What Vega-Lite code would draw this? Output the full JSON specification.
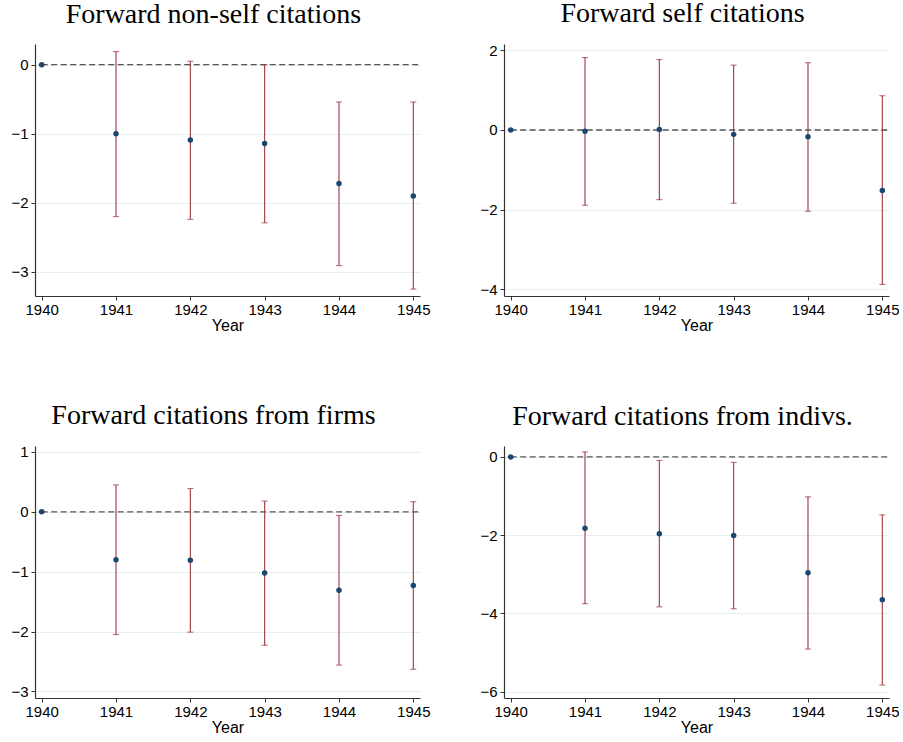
{
  "$schema": "https://vega.github.io/schema/vega-lite/v6.json",
  "background": "white",
  "padding": {"left": 10, "top": 0, "right": 0, "bottom": 0},
  "datasets": {
    "est": [
      {"outcome": "nonself", "year": 1940, "b": 0, "lo": 0, "hi": 0},
      {"outcome": "nonself", "year": 1941, "b": -1.00, "lo": -2.20, "hi": 0.19},
      {"outcome": "nonself", "year": 1942, "b": -1.09, "lo": -2.24, "hi": 0.05},
      {"outcome": "nonself", "year": 1943, "b": -1.14, "lo": -2.29, "hi": 0.00},
      {"outcome": "nonself", "year": 1944, "b": -1.72, "lo": -2.91, "hi": -0.54},
      {"outcome": "nonself", "year": 1945, "b": -1.90, "lo": -3.25, "hi": -0.54},
      {"outcome": "self", "year": 1940, "b": 0, "lo": 0, "hi": 0},
      {"outcome": "self", "year": 1941, "b": -0.03, "lo": -1.89, "hi": 1.82},
      {"outcome": "self", "year": 1942, "b": 0.01, "lo": -1.75, "hi": 1.77},
      {"outcome": "self", "year": 1943, "b": -0.11, "lo": -1.84, "hi": 1.63},
      {"outcome": "self", "year": 1944, "b": -0.17, "lo": -2.04, "hi": 1.69},
      {"outcome": "self", "year": 1945, "b": -1.52, "lo": -3.88, "hi": 0.86},
      {"outcome": "firms", "year": 1940, "b": 0, "lo": 0, "hi": 0},
      {"outcome": "firms", "year": 1941, "b": -0.80, "lo": -2.05, "hi": 0.45},
      {"outcome": "firms", "year": 1942, "b": -0.81, "lo": -2.01, "hi": 0.39},
      {"outcome": "firms", "year": 1943, "b": -1.02, "lo": -2.23, "hi": 0.18},
      {"outcome": "firms", "year": 1944, "b": -1.31, "lo": -2.56, "hi": -0.06},
      {"outcome": "firms", "year": 1945, "b": -1.23, "lo": -2.63, "hi": 0.17},
      {"outcome": "indivs", "year": 1940, "b": 0, "lo": 0, "hi": 0},
      {"outcome": "indivs", "year": 1941, "b": -1.82, "lo": -3.75, "hi": 0.13},
      {"outcome": "indivs", "year": 1942, "b": -1.96, "lo": -3.83, "hi": -0.09},
      {"outcome": "indivs", "year": 1943, "b": -2.01, "lo": -3.88, "hi": -0.14},
      {"outcome": "indivs", "year": 1944, "b": -2.96, "lo": -4.91, "hi": -1.02},
      {"outcome": "indivs", "year": 1945, "b": -3.65, "lo": -5.83, "hi": -1.48}
    ]
  },
  "data": {"name": "est"},
  "bounds": "flush",
  "columns": 2,
  "spacing": {"row": 150, "column": 84},
  "concat": [
    {
      "width": 385, "height": 252,
      "title": {"text": "Forward non-self citations"},
      "transform": [{"filter": "datum.outcome === 'nonself'"}],
      "encoding": {
        "x": {"field": "year", "type": "quantitative", "scale": {"domain": [1939.91, 1945.09], "nice": false, "zero": false}, "axis": {"title": "Year", "values": [1940, 1941, 1942, 1943, 1944, 1945], "format": "d", "grid": false}}
      },
      "layer": [
        {"transform": [{"filter": "datum.year === 1940"}], "mark": {"type": "rule", "color": "#555555", "strokeDash": [6, 3.5], "strokeWidth": 1.3}, "encoding": {"x2": {"datum": 1945.09}, "y": {"datum": 0, "type": "quantitative", "title": null, "scale": {"domain": [-3.35, 0.30], "nice": false, "zero": false}}}},
        {"mark": {"type": "rule", "color": "#9c3540", "strokeWidth": 1.1}, "encoding": {"y": {"field": "lo", "type": "quantitative", "title": null, "scale": {"domain": [-3.35, 0.30], "nice": false, "zero": false}}, "y2": {"field": "hi"}}},
        {"mark": {"type": "tick", "orient": "horizontal", "color": "#9c3540", "size": 6, "thickness": 1.1}, "encoding": {"y": {"field": "lo", "type": "quantitative", "title": null, "scale": {"domain": [-3.35, 0.30], "nice": false, "zero": false}}}},
        {"mark": {"type": "tick", "orient": "horizontal", "color": "#9c3540", "size": 6, "thickness": 1.1}, "encoding": {"y": {"field": "hi", "type": "quantitative", "title": null, "scale": {"domain": [-3.35, 0.30], "nice": false, "zero": false}}}},
        {"mark": {"type": "point", "filled": true, "color": "#1a476f", "opacity": 1, "size": 30}, "encoding": {"y": {"field": "b", "type": "quantitative", "title": null, "scale": {"domain": [-3.35, 0.30], "nice": false, "zero": false}, "axis": {"values": [-3, -2, -1, 0], "format": "d", "grid": true}}}}
      ]
    },
    {
      "width": 385, "height": 252,
      "title": {"text": "Forward self citations"},
      "transform": [{"filter": "datum.outcome === 'self'"}],
      "encoding": {
        "x": {"field": "year", "type": "quantitative", "scale": {"domain": [1939.91, 1945.09], "nice": false, "zero": false}, "axis": {"title": "Year", "values": [1940, 1941, 1942, 1943, 1944, 1945], "format": "d", "grid": false}}
      },
      "layer": [
        {"transform": [{"filter": "datum.year === 1940"}], "mark": {"type": "rule", "color": "#555555", "strokeDash": [6, 3.5], "strokeWidth": 1.3}, "encoding": {"x2": {"datum": 1945.09}, "y": {"datum": 0, "type": "quantitative", "title": null, "scale": {"domain": [-4.17, 2.16], "nice": false, "zero": false}}}},
        {"mark": {"type": "rule", "color": "#9c3540", "strokeWidth": 1.1}, "encoding": {"y": {"field": "lo", "type": "quantitative", "title": null, "scale": {"domain": [-4.17, 2.16], "nice": false, "zero": false}}, "y2": {"field": "hi"}}},
        {"mark": {"type": "tick", "orient": "horizontal", "color": "#9c3540", "size": 6, "thickness": 1.1}, "encoding": {"y": {"field": "lo", "type": "quantitative", "title": null, "scale": {"domain": [-4.17, 2.16], "nice": false, "zero": false}}}},
        {"mark": {"type": "tick", "orient": "horizontal", "color": "#9c3540", "size": 6, "thickness": 1.1}, "encoding": {"y": {"field": "hi", "type": "quantitative", "title": null, "scale": {"domain": [-4.17, 2.16], "nice": false, "zero": false}}}},
        {"mark": {"type": "point", "filled": true, "color": "#1a476f", "opacity": 1, "size": 30}, "encoding": {"y": {"field": "b", "type": "quantitative", "title": null, "scale": {"domain": [-4.17, 2.16], "nice": false, "zero": false}, "axis": {"values": [-4, -2, 0, 2], "format": "d", "grid": true}}}}
      ]
    },
    {
      "width": 385, "height": 252,
      "title": {"text": "Forward citations from firms"},
      "transform": [{"filter": "datum.outcome === 'firms'"}],
      "encoding": {
        "x": {"field": "year", "type": "quantitative", "scale": {"domain": [1939.91, 1945.09], "nice": false, "zero": false}, "axis": {"title": "Year", "values": [1940, 1941, 1942, 1943, 1944, 1945], "format": "d", "grid": false}}
      },
      "layer": [
        {"transform": [{"filter": "datum.year === 1940"}], "mark": {"type": "rule", "color": "#555555", "strokeDash": [6, 3.5], "strokeWidth": 1.3}, "encoding": {"x2": {"datum": 1945.09}, "y": {"datum": 0, "type": "quantitative", "title": null, "scale": {"domain": [-3.11, 1.10], "nice": false, "zero": false}}}},
        {"mark": {"type": "rule", "color": "#9c3540", "strokeWidth": 1.1}, "encoding": {"y": {"field": "lo", "type": "quantitative", "title": null, "scale": {"domain": [-3.11, 1.10], "nice": false, "zero": false}}, "y2": {"field": "hi"}}},
        {"mark": {"type": "tick", "orient": "horizontal", "color": "#9c3540", "size": 6, "thickness": 1.1}, "encoding": {"y": {"field": "lo", "type": "quantitative", "title": null, "scale": {"domain": [-3.11, 1.10], "nice": false, "zero": false}}}},
        {"mark": {"type": "tick", "orient": "horizontal", "color": "#9c3540", "size": 6, "thickness": 1.1}, "encoding": {"y": {"field": "hi", "type": "quantitative", "title": null, "scale": {"domain": [-3.11, 1.10], "nice": false, "zero": false}}}},
        {"mark": {"type": "point", "filled": true, "color": "#1a476f", "opacity": 1, "size": 30}, "encoding": {"y": {"field": "b", "type": "quantitative", "title": null, "scale": {"domain": [-3.11, 1.10], "nice": false, "zero": false}, "axis": {"values": [-3, -2, -1, 0, 1], "format": "d", "grid": true}}}}
      ]
    },
    {
      "width": 385, "height": 252,
      "title": {"text": "Forward citations from indivs."},
      "transform": [{"filter": "datum.outcome === 'indivs'"}],
      "encoding": {
        "x": {"field": "year", "type": "quantitative", "scale": {"domain": [1939.91, 1945.09], "nice": false, "zero": false}, "axis": {"title": "Year", "values": [1940, 1941, 1942, 1943, 1944, 1945], "format": "d", "grid": false}}
      },
      "layer": [
        {"transform": [{"filter": "datum.year === 1940"}], "mark": {"type": "rule", "color": "#555555", "strokeDash": [6, 3.5], "strokeWidth": 1.3}, "encoding": {"x2": {"datum": 1945.09}, "y": {"datum": 0, "type": "quantitative", "title": null, "scale": {"domain": [-6.16, 0.28], "nice": false, "zero": false}}}},
        {"mark": {"type": "rule", "color": "#9c3540", "strokeWidth": 1.1}, "encoding": {"y": {"field": "lo", "type": "quantitative", "title": null, "scale": {"domain": [-6.16, 0.28], "nice": false, "zero": false}}, "y2": {"field": "hi"}}},
        {"mark": {"type": "tick", "orient": "horizontal", "color": "#9c3540", "size": 6, "thickness": 1.1}, "encoding": {"y": {"field": "lo", "type": "quantitative", "title": null, "scale": {"domain": [-6.16, 0.28], "nice": false, "zero": false}}}},
        {"mark": {"type": "tick", "orient": "horizontal", "color": "#9c3540", "size": 6, "thickness": 1.1}, "encoding": {"y": {"field": "hi", "type": "quantitative", "title": null, "scale": {"domain": [-6.16, 0.28], "nice": false, "zero": false}}}},
        {"mark": {"type": "point", "filled": true, "color": "#1a476f", "opacity": 1, "size": 30}, "encoding": {"y": {"field": "b", "type": "quantitative", "title": null, "scale": {"domain": [-6.16, 0.28], "nice": false, "zero": false}, "axis": {"values": [-6, -4, -2, 0], "format": "d", "grid": true}}}}
      ]
    }
  ],
  "config": {
    "view": {"stroke": null},
    "font": "Liberation Sans",
    "title": {"font": "Liberation Serif", "fontSize": 28, "fontWeight": "normal", "color": "#000000", "anchor": "middle", "baseline": "alphabetic", "offset": 15, "dx": -14},
    "axis": {
      "domainColor": "#333333",
      "domainWidth": 1.2,
      "tickColor": "#333333",
      "tickSize": 4,
      "labelFont": "Liberation Sans",
      "labelFontSize": 15,
      "labelColor": "#000000",
      "labelPadding": 2,
      "titleFont": "Liberation Sans",
      "titleFontSize": 16,
      "titleFontWeight": "normal",
      "titleColor": "#000000",
      "titlePadding": 0,
      "gridColor": "#e6eeef",
      "gridWidth": 1
    },
    "axisY": {"labelPadding": 3}
  }
}
